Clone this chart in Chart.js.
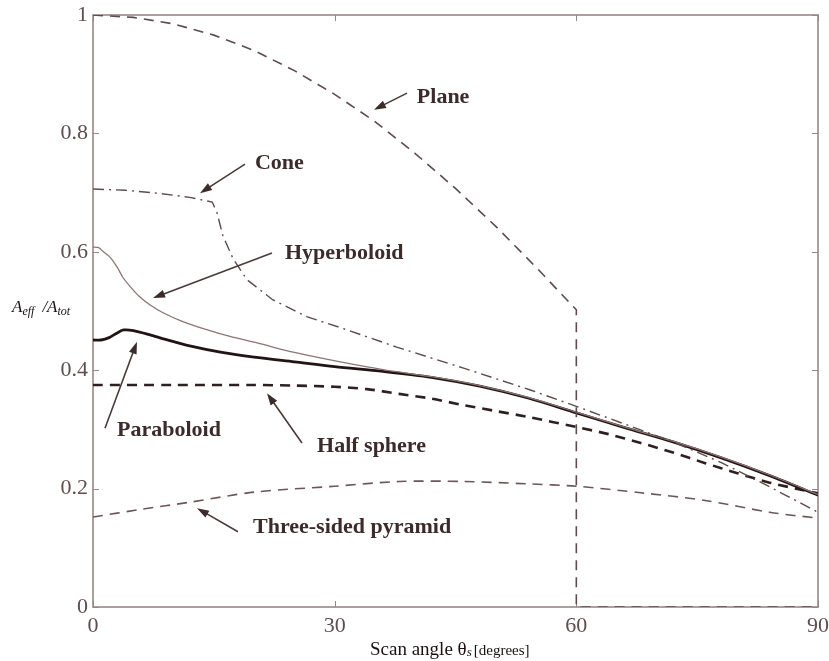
<!DOCTYPE html>
<html>
<head>
<meta charset="utf-8">
<script src="https://cdn.jsdelivr.net/npm/chart.js@4.4.1/dist/chart.umd.min.js"></script>
<style>
  html, body { margin: 0; padding: 0; background: #fff; }
  #wrap { width: 829px; height: 661px; }
</style>
</head>
<body>
<div id="wrap"><canvas id="chart"></canvas></div>
<script>
// tick labels
const xTicks = [0, 30, 60, 90]
const yTicks = [0, 0.2, 0.4, 0.6, 0.8, 1]

// Plane
const planeX = [0, 5, 10, 15, 20, 25, 30, 35, 40, 45, 50, 55, 60, 60, 90]
const planeY = [1.0, 0.996, 0.985, 0.966, 0.94, 0.906, 0.866, 0.82, 0.766, 0.707, 0.643, 0.574, 0.502, 0, 0]

// Cone
const coneX = [0, 4, 8, 12, 14.8, 15.4, 16.1, 17.4, 19.1, 22.3, 26.6, 30.7, 37.7, 45.9, 54.2, 60, 66, 72, 78, 84, 90]
const coneY = [0.706, 0.704, 0.699, 0.692, 0.684, 0.666, 0.628, 0.588, 0.553, 0.519, 0.49, 0.472, 0.439, 0.404, 0.367, 0.339, 0.309, 0.279, 0.244, 0.203, 0.16]

// Hyperboloid
const hyperX = [0, 0.7, 1.3, 2.1, 3, 3.7, 4.7, 5.8, 7, 8.7, 11, 14.2, 17, 20.4, 25, 30.7, 36, 42, 48, 54, 60, 66, 72, 78, 84, 90]
const hyperY = [0.608, 0.607, 0.6, 0.591, 0.574, 0.557, 0.54, 0.524, 0.511, 0.497, 0.483, 0.468, 0.457, 0.446, 0.43, 0.414, 0.401, 0.389, 0.374, 0.354, 0.329, 0.304, 0.28, 0.253, 0.223, 0.19]

// Paraboloid
const paraX = [0, 1, 2, 3, 3.8, 5, 7, 9, 12, 16, 20, 25, 30, 36, 42, 48, 54, 60, 66, 72, 78, 84, 90]
const paraY = [0.451, 0.451, 0.455, 0.463, 0.468, 0.467, 0.46, 0.452, 0.441, 0.43, 0.422, 0.414, 0.406, 0.398, 0.388, 0.373, 0.353, 0.328, 0.303, 0.279, 0.252, 0.222, 0.189]

// Half sphere
const halfX = [0, 10, 20, 25, 30, 34, 38, 42, 46, 50, 54, 60, 64, 68, 72, 76, 80, 84, 90]
const halfY = [0.375, 0.375, 0.375, 0.374, 0.372, 0.368, 0.36, 0.352, 0.341, 0.331, 0.321, 0.304, 0.292, 0.277, 0.261, 0.243, 0.226, 0.21, 0.192]

// Three-sided pyramid
const pyrX = [0, 6, 12, 20, 30, 38, 46, 54, 60, 68, 76, 84, 90]
const pyrY = [0.152, 0.165, 0.177, 0.194, 0.204, 0.212, 0.212, 0.208, 0.204, 0.193, 0.18, 0.16, 0.15]

// labels with arrows, in data units: text left/middle, arrow from -> to
const notes = [
  { text: "Plane", at: [40.2, 0.861], from: [38.98, 0.868], to: [34.88, 0.840] },
  { text: "Cone", at: [20.1, 0.750], from: [18.87, 0.748], to: [13.28, 0.699] },
  { text: "Hyperboloid", at: [23.83, 0.598], from: [22.22, 0.598], to: [7.45, 0.522] },
  { text: "Paraboloid", at: [2.98, 0.299], from: [1.49, 0.302], to: [5.46, 0.448] },
  { text: "Half sphere", at: [27.81, 0.272], from: [25.94, 0.277], to: [21.6, 0.361] },
  { text: "Three-sided pyramid", at: [19.86, 0.135], from: [18.0, 0.127], to: [12.91, 0.167] }
]

const serif = "'Liberation Serif', 'DejaVu Serif', serif"
const frameColor = "#968787"
const textColor = "#3b2b2b"

function pts(xs, ys) {
  return xs.map((x, i) => ({ x: x, y: ys[i] }))
}

function line(label, xs, ys, color, width, dash, tension) {
  return {
    label: label,
    data: pts(xs, ys),
    showLine: true,
    borderColor: color,
    borderWidth: width,
    borderDash: dash,
    pointRadius: 0,
    tension: tension,
    fill: false
  }
}

// frame and inward ticks, under the curves
const frame = {
  id: "frame",
  beforeDatasetsDraw(chart) {
    const ctx = chart.ctx
    const a = chart.chartArea
    const xs = chart.scales.x
    const ys = chart.scales.y
    ctx.save()
    ctx.strokeStyle = frameColor
    ctx.lineWidth = 1.6
    ctx.setLineDash([])
    ctx.strokeRect(a.left, a.top, a.right - a.left, a.bottom - a.top)
    ctx.lineWidth = 1
    xTicks.forEach(v => {
      const px = Math.round(xs.getPixelForValue(v)) + 0.5
      ctx.beginPath()
      ctx.moveTo(px, a.bottom); ctx.lineTo(px, a.bottom - 6)
      ctx.moveTo(px, a.top); ctx.lineTo(px, a.top + 6)
      ctx.stroke()
    })
    yTicks.forEach(v => {
      const py = Math.round(ys.getPixelForValue(v)) + 0.5
      ctx.beginPath()
      ctx.moveTo(a.left, py); ctx.lineTo(a.left + 6, py)
      ctx.moveTo(a.right, py); ctx.lineTo(a.right - 6, py)
      ctx.stroke()
    })
    ctx.restore()
  }
}

// axis titles and labelled arrows
const decor = {
  id: "decor",
  afterDatasetsDraw(chart) {
    const ctx = chart.ctx
    const xs = chart.scales.x
    const ys = chart.scales.y
    ctx.save()
    ctx.fillStyle = textColor
    ctx.strokeStyle = "#4a3a3a"
    ctx.font = "bold 22px " + serif
    ctx.textBaseline = "middle"
    ctx.textAlign = "left"
    notes.forEach(n => {
      ctx.fillText(n.text, xs.getPixelForValue(n.at[0]), ys.getPixelForValue(n.at[1]))
      const x1 = xs.getPixelForValue(n.from[0]), y1 = ys.getPixelForValue(n.from[1])
      const x2 = xs.getPixelForValue(n.to[0]), y2 = ys.getPixelForValue(n.to[1])
      const ang = Math.atan2(y2 - y1, x2 - x1)
      ctx.lineWidth = 1.6
      ctx.beginPath()
      ctx.moveTo(x1, y1)
      ctx.lineTo(x2 - 8 * Math.cos(ang), y2 - 8 * Math.sin(ang))
      ctx.stroke()
      ctx.beginPath()
      ctx.moveTo(x2, y2)
      ctx.lineTo(x2 - 12 * Math.cos(ang) + 4 * Math.sin(ang), y2 - 12 * Math.sin(ang) - 4 * Math.cos(ang))
      ctx.lineTo(x2 - 12 * Math.cos(ang) - 4 * Math.sin(ang), y2 - 12 * Math.sin(ang) + 4 * Math.cos(ang))
      ctx.closePath()
      ctx.fill()
    })

    // y title  A_eff /A_tot
    ctx.fillStyle = "#1a1010"
    let x = 12, y = 308
    ctx.font = "italic 17px " + serif
    ctx.fillText("A", x, y); x += ctx.measureText("A").width
    ctx.font = "italic 12px " + serif
    ctx.fillText("eff", x, y + 4); x += ctx.measureText("eff").width + 8
    ctx.font = "italic 17px " + serif
    ctx.fillText("/A", x, y); x += ctx.measureText("/A").width
    ctx.font = "italic 12px " + serif
    ctx.fillText("tot", x, y + 4)

    // x title  Scan angle θs [degrees]
    x = 370; y = 650
    ctx.font = "19px " + serif
    ctx.fillText("Scan angle θ", x, y); x += ctx.measureText("Scan angle θ").width
    ctx.font = "italic 13px " + serif
    ctx.fillText("s", x, y + 3); x += ctx.measureText("s").width + 2
    ctx.font = "15px " + serif
    ctx.fillText("[degrees]", x, y + 1)
    ctx.restore()
  }
}

const chart = new Chart(document.getElementById("chart"), {
  type: "scatter",
  data: {
    datasets: [
      line("Plane", planeX, planeY, "#5e4b4b", 1.6, [10, 7], 0),
      line("Cone", coneX, coneY, "#5e4b4b", 1.4, [11, 5, 2, 5], 0),
      line("Hyperboloid", hyperX, hyperY, "#8c7474", 1.3, [], 0.3),
      line("Paraboloid", paraX, paraY, "#221414", 2.8, [], 0.3),
      line("Half sphere", halfX, halfY, "#2e2020", 2.6, [10, 7], 0.3),
      line("Three-sided pyramid", pyrX, pyrY, "#6b5757", 1.6, [10, 7], 0.3)
    ]
  },
  options: {
    responsive: true,
    maintainAspectRatio: false,
    animation: false,
    layout: { padding: { left: 0, right: 11, top: 15, bottom: 0 } },
    plugins: { legend: { display: false }, tooltip: { enabled: false } },
    scales: {
      x: {
        type: "linear",
        min: 0,
        max: 90,
        grid: { display: false, drawTicks: false },
        border: { display: false },
        afterBuildTicks: s => { s.ticks = xTicks.map(v => ({ value: v })) },
        afterFit: s => { s.height = 54; s.paddingLeft = 0; s.paddingRight = 0 },
        ticks: { color: "#5e4e4e", padding: 6, maxRotation: 0, font: { family: serif, size: 22 },
          callback: v => String(v) }
      },
      y: {
        type: "linear",
        min: 0,
        max: 1,
        grid: { display: false, drawTicks: false },
        border: { display: false },
        afterBuildTicks: s => { s.ticks = yTicks.map(v => ({ value: v })) },
        afterFit: s => { s.width = 93; s.paddingTop = 0; s.paddingBottom = 0 },
        ticks: { color: "#5e4e4e", padding: 5, font: { family: serif, size: 22 },
          callback: v => String(Math.round(v * 10) / 10) }
      }
    }
  },
  plugins: [frame, decor]
})
</script>
</body>
</html>
